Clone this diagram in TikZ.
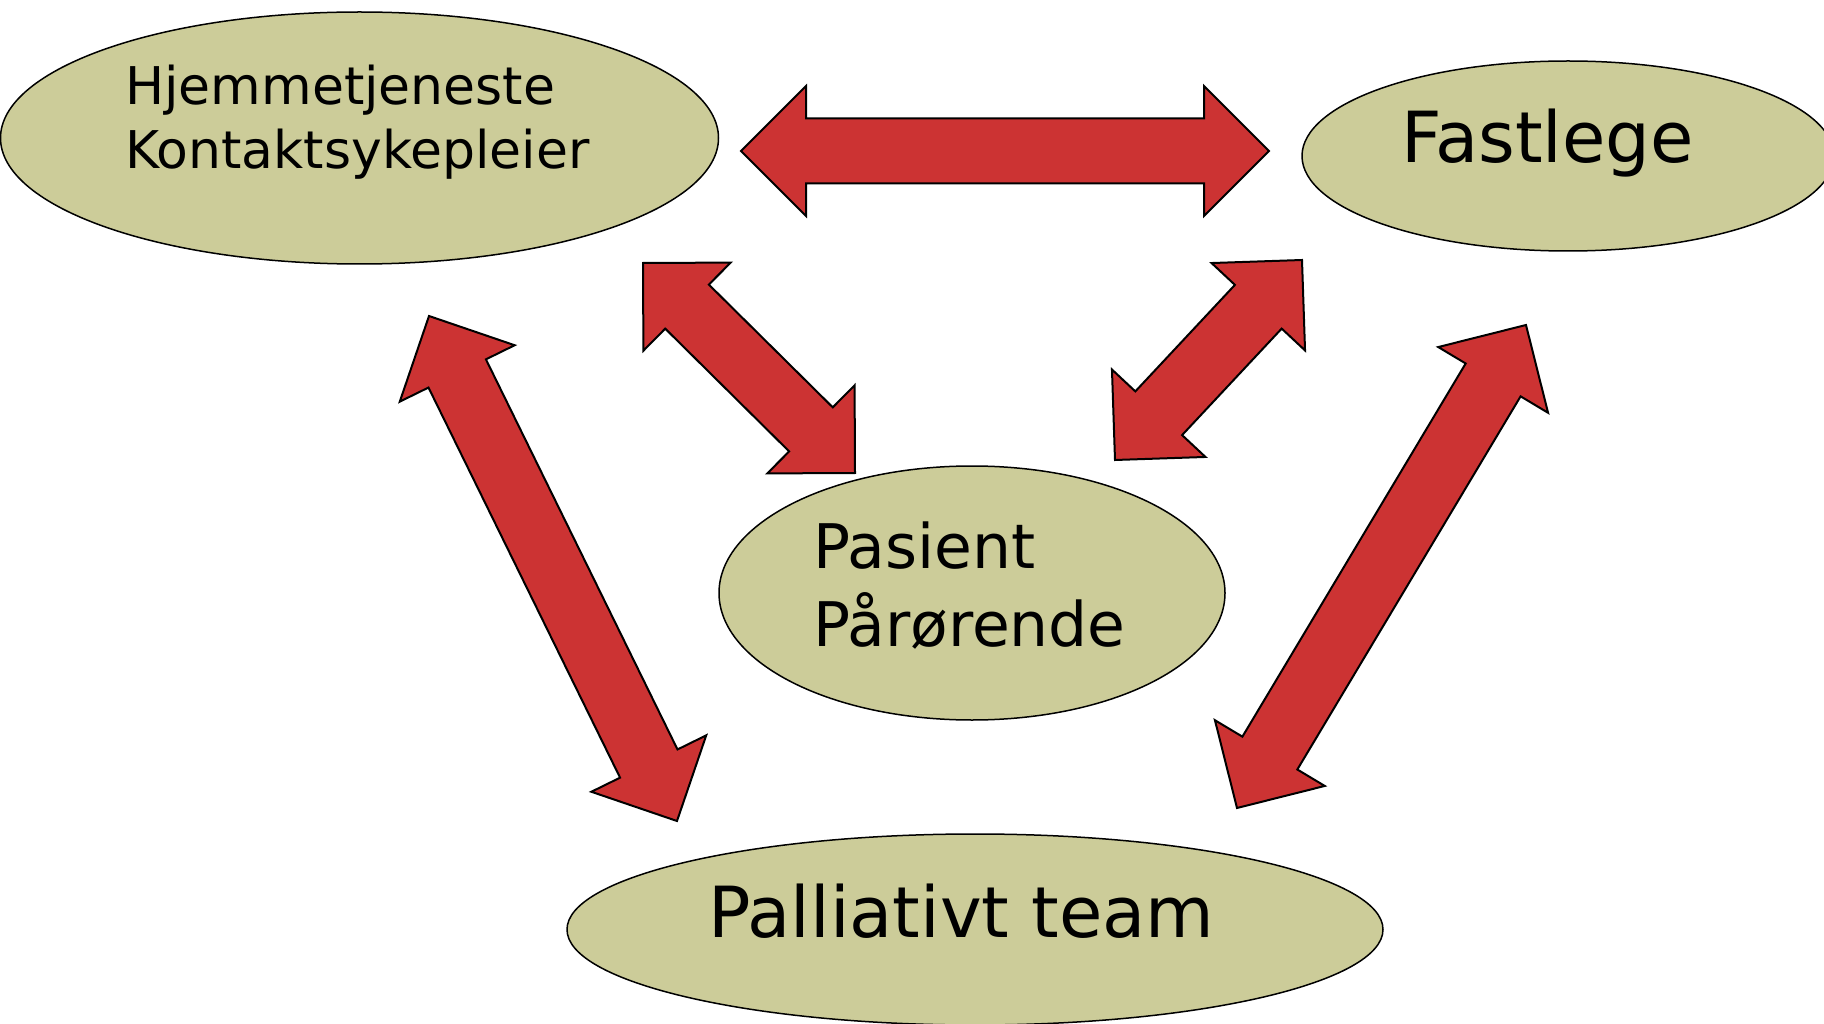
\documentclass[tikz,border=0pt]{standalone}
\usepackage{fontspec}
\setmainfont{DejaVu Sans}
\usetikzlibrary{shapes.geometric,calc}
\definecolor{khaki}{HTML}{CCCC99}
\definecolor{arrowred}{HTML}{CC3333}
\tikzset{
  bubble/.style={ellipse, draw=black, line width=1.5pt, fill=khaki, inner sep=0pt},
  txt/.style={anchor=base west, inner sep=0pt, text=black},
  blockarrow/.style={draw=black, line width=2pt, fill=arrowred, line join=miter}
}
% #1 start tip, #2 end tip, #3 shaft half width, #4 head half width, #5 head length
\newcommand{\dblblockarrow}[5]{%
  \coordinate (dbA) at ($(#1)!#5!(#2)$);
  \coordinate (dbB) at ($(#2)!#5!(#1)$);
  \draw[blockarrow] (#1)
    -- ($(dbA)!#4!90:(#2)$) -- ($(dbA)!#3!90:(#2)$)
    -- ($(dbB)!#3!-90:(#1)$) -- ($(dbB)!#4!-90:(#1)$)
    -- (#2)
    -- ($(dbB)!#4!90:(#1)$) -- ($(dbB)!#3!90:(#1)$)
    -- ($(dbA)!#3!-90:(#2)$) -- ($(dbA)!#4!-90:(#2)$)
    -- cycle;
}
\begin{document}
\begin{tikzpicture}[x=1pt,y=-1pt]
\useasboundingbox (0,0) rectangle (1824,1024);
\fill[white] (0,0) rectangle (1824,1024);

% bubbles
\node[bubble, minimum width=718pt, minimum height=252pt] (hjem) at (359.5,138) {};
\node[bubble, minimum width=532pt, minimum height=190pt] (fast) at (1568,156) {};
\node[bubble, minimum width=506pt, minimum height=254pt] (pas) at (972,593) {};
\node[bubble, minimum width=816pt, minimum height=191pt] (pall) at (975,929.5) {};

% texts
\node[txt, font=\fontsize{52}{64}\selectfont] (t1) at (125,105) {Hjemmetjeneste};
\node[txt, font=\fontsize{52}{64}\selectfont] (t2) at (125,169) {Kontaktsykepleier};
\node[txt, font=\fontsize{70.5}{80}\selectfont] (t3) at (1401,163) {Fastlege};
\node[txt, font=\fontsize{61.5}{77}\selectfont] (t4) at (813,568) {Pasient};
\node[txt, font=\fontsize{61.5}{77}\selectfont] (t5) at (813,646) {Pårørende};
\node[txt, font=\fontsize{70.5}{80}\selectfont] (t6) at (708,937) {Palliativt team};

% arrow end points
\coordinate (hL) at (741,151);
\coordinate (hR) at (1269,151);
\coordinate (a1s) at (643,263);
\coordinate (a1e) at (855,473);
\coordinate (a2s) at (1302,260);
\coordinate (a2e) at (1115,460);
\coordinate (a3s) at (429,316);
\coordinate (a3e) at (677,821);
\coordinate (a4s) at (1526,325);
\coordinate (a4e) at (1237,808);

\dblblockarrow{hL}{hR}{32.5pt}{65pt}{65pt}
\dblblockarrow{a1s}{a1e}{31pt}{62pt}{62pt}
\dblblockarrow{a2s}{a2e}{32pt}{64pt}{64pt}
\dblblockarrow{a3s}{a3e}{32pt}{64pt}{64pt}
\dblblockarrow{a4s}{a4e}{32pt}{64pt}{64pt}
\end{tikzpicture}
\end{document}
